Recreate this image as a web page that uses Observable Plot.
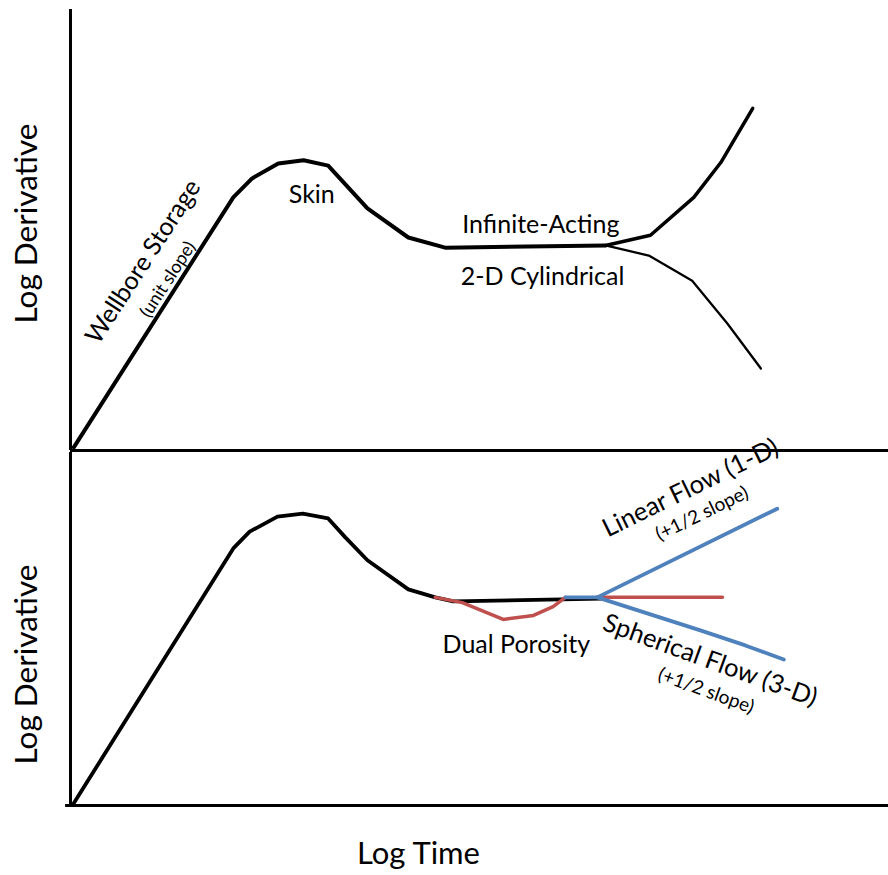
<!DOCTYPE html>
<html><head><meta charset="utf-8">
<script src="https://cdn.jsdelivr.net/npm/d3@7"></script>
<script src="https://cdn.jsdelivr.net/npm/@observablehq/plot@0.6"></script>
<style>body{margin:0;background:#fff;} #chart{width:888px;} svg{display:block;}</style>
</head><body><div id="chart"></div>
<script>
// ---- data (log time, log derivative) ----
const topMain  = [[0.04,0.07],[1.99,5.74],[2.22,6.17],[2.54,6.51],[2.85,6.58],[3.15,6.46],[3.63,5.49],[4.13,4.83],[4.58,4.60],[6.54,4.65]];
const topUpper = [[6.54,4.65],[7.09,4.88],[7.62,5.74],[7.95,6.53],[8.34,7.76]];
const topLower = [[6.54,4.65],[7.07,4.42],[7.60,3.85],[8.03,2.88],[8.44,1.86]];

const botMain   = [[0.04,0.05],[1.99,5.83],[2.19,6.21],[2.53,6.55],[2.84,6.62],[3.15,6.51],[3.36,6.08],[3.63,5.56],[4.13,4.90],[4.46,4.72],[4.68,4.63],[6.50,4.69]];
const dualPor   = [[4.46,4.72],[4.79,4.60],[5.29,4.22],[5.66,4.31],[5.90,4.51],[6.05,4.72]];
const radialRef = [[6.44,4.72],[7.97,4.72]];
const linearFlow    = [[6.05,4.72],[6.44,4.72],[8.64,6.73]];
const sphericalFlow = [[6.44,4.72],[7.70,3.97],[8.25,3.63],[8.72,3.31]];

const topLabels = ["Skin", "Infinite-Acting", "2-D Cylindrical"];
const topLabelAt = [[2.95,5.80],[5.75,5.12],[5.77,3.94]];
const wellboreLabel = ["Wellbore Storage"];
const wellboreAt = [[0.89,4.28]];
const wellboreNote = ["(unit slope)"];
const wellboreNoteAt = [[1.19,3.88]];
const botLabels = ["Dual Porosity"];
const botLabelAt = [[5.45,3.65]];
const linearLabel = ["Linear Flow (1-D)"];
const linearAt = [[7.58,7.2]];
const linearNote = ["(+1/2 slope)"];
const linearNoteAt = [[7.72,6.62]];
const sphericalLabel = ["Spherical Flow (3-D)"];
const sphericalAt = [[7.82,3.29]];
const sphericalNote = ["(+1/2 slope)"];
const sphericalNoteAt = [[7.77,2.60]];

const yTitle = "Log Derivative";
const xTitle = "Log Time";

// ---- rendering ----
const F = "Lato, 'Open Sans', sans-serif";
const BLUE = "#4f81bd", RED = "#c0504d";
const withText = (txt, at) => txt.map((t, i) => ({t, x: at[i][0], y: at[i][1]}));
const line = (d, o) => Plot.line(d, {x: d => d[0], y: d => d[1], curve: "linear", strokeLinejoin: "round", ...o});
const label = (txt, at, o) => Plot.text(withText(txt, at), {x: "x", y: "y", text: "t", fill: "black", ...o});

const topPanel = Plot.plot({
  width: 888, height: 452,
  marginLeft: 70, marginRight: 0, marginTop: 9, marginBottom: 2,
  x: {domain: [0, 10], axis: null},
  y: {domain: [0, 10], axis: null},
  style: {fontFamily: F, background: "white", color: "black"},
  marks: [
    Plot.ruleX([0], {stroke: "black", strokeWidth: 3}),
    Plot.ruleY([0], {stroke: "black", strokeWidth: 3}),
    line(topMain, {stroke: "black", strokeWidth: 4}),
    line(topUpper, {stroke: "black", strokeWidth: 3.5}),
    line(topLower, {stroke: "black", strokeWidth: 2.3}),
    label(topLabels, topLabelAt, {fontSize: 25}),
    label(wellboreLabel, wellboreAt, {fontSize: 25, rotate: -57}),
    label(wellboreNote, wellboreNoteAt, {fontSize: 18, rotate: -57}),
    Plot.text([yTitle], {frameAnchor: "left", textAnchor: "middle", dx: -44, dy: -6.5, rotate: -90, fontSize: 31.5, fill: "black"})
  ]
});

const bottomPanel = Plot.plot({
  width: 888, height: 423,
  marginLeft: 70, marginRight: 0, marginTop: 0, marginBottom: 70,
  x: {domain: [0, 10], axis: null},
  y: {domain: [0, 353 / 44.1], axis: null},
  style: {fontFamily: F, background: "white", color: "black", overflow: "visible"},
  marks: [
    Plot.ruleX([0], {stroke: "black", strokeWidth: 3}),
    Plot.ruleY([0], {x1: -0.06, x2: 10, stroke: "black", strokeWidth: 3}),
    line(botMain, {stroke: "black", strokeWidth: 3.8}),
    line(dualPor, {stroke: RED, strokeWidth: 3.5}),
    line(radialRef, {stroke: RED, strokeWidth: 3.5}),
    line(linearFlow, {stroke: BLUE, strokeWidth: 3.8}),
    line(sphericalFlow, {stroke: BLUE, strokeWidth: 3.8}),
    label(botLabels, botLabelAt, {fontSize: 25}),
    label(linearLabel, linearAt, {fontSize: 25.5, rotate: -26}),
    label(linearNote, linearNoteAt, {fontSize: 19, rotate: -26}),
    label(sphericalLabel, sphericalAt, {fontSize: 25.5, rotate: 20}),
    label(sphericalNote, sphericalNoteAt, {fontSize: 19, rotate: 20}),
    Plot.text([yTitle], {frameAnchor: "left", textAnchor: "middle", dx: -44, dy: 35.5, rotate: -90, fontSize: 31.5, fill: "black"}),
    Plot.text([xTitle], {frameAnchor: "bottom", textAnchor: "middle", dx: -61, dy: 58, lineAnchor: "bottom", fontSize: 31, fill: "black"})
  ]
});

document.getElementById("chart").append(topPanel, bottomPanel);
</script>
</body></html>
